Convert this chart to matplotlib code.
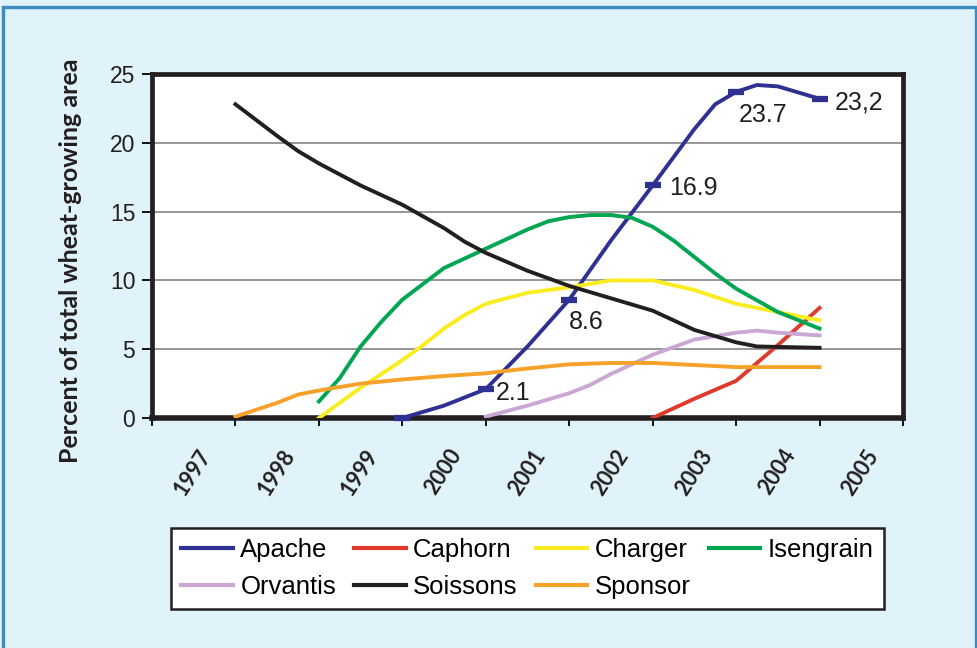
import numpy as np
import matplotlib.pyplot as plt
from matplotlib.patches import Rectangle
from matplotlib.lines import Line2D

# x positions are in "tick units": tick 0 sits at the left axis, year labels sit between ticks
year_labels = ["1997", "1998", "1999", "2000", "2001", "2002", "2003", "2004", "2005"]

apache_x = [3, 3.5, 4, 4.5, 5, 5.5, 6, 6.5, 6.75, 7, 7.25, 7.5, 8]
apache_y = [0, 0.9, 2.1, 5.2, 8.6, 12.9, 16.9, 21.0, 22.8, 23.7, 24.2, 24.1, 23.2]
apache_marks_x = [3, 4, 5, 6, 7, 8]
apache_marks_y = [0, 2.1, 8.6, 16.9, 23.7, 23.2]

caphorn_x = [6, 6.5, 7, 7.5, 8]
caphorn_y = [0, 1.4, 2.7, 5.3, 8.0]

charger_x = [2, 2.5, 3, 3.25, 3.5, 3.75, 4, 4.5, 5, 5.5, 6, 6.5, 7, 7.5, 8]
charger_y = [0, 2.2, 4.2, 5.3, 6.5, 7.5, 8.3, 9.1, 9.5, 10.0, 10.0, 9.3, 8.3, 7.7, 7.1]

isengrain_x = [2, 2.25, 2.5, 2.75, 3, 3.5, 4, 4.5, 4.75, 5, 5.25, 5.5, 5.75, 6, 6.25, 6.5, 6.75, 7, 7.5, 8]
isengrain_y = [1.2, 2.9, 5.2, 7.0, 8.6, 10.9, 12.3, 13.7, 14.3, 14.6, 14.75, 14.75, 14.55, 13.9, 12.9, 11.7, 10.5, 9.4, 7.7, 6.5]

orvantis_x = [4, 4.5, 5, 5.25, 5.5, 6, 6.5, 7, 7.25, 7.5, 8]
orvantis_y = [0.1, 0.9, 1.8, 2.4, 3.2, 4.6, 5.7, 6.2, 6.35, 6.2, 6.0]

soissons_x = [1, 1.5, 1.75, 2, 2.5, 3, 3.5, 3.75, 4, 4.5, 5, 5.5, 6, 6.5, 7, 7.25, 8]
soissons_y = [22.8, 20.5, 19.4, 18.5, 16.9, 15.5, 13.8, 12.8, 12.0, 10.7, 9.6, 8.7, 7.8, 6.4, 5.5, 5.2, 5.1]

sponsor_x = [1, 1.5, 1.75, 2, 2.5, 3, 3.5, 4, 4.5, 5, 5.5, 6, 6.5, 7, 7.5, 8]
sponsor_y = [0.1, 1.1, 1.7, 2.0, 2.5, 2.8, 3.05, 3.25, 3.6, 3.9, 4.0, 4.0, 3.85, 3.7, 3.7, 3.7]

labels_txt = ["2.1", "8.6", "16.9", "23.7", "23,2"]
labels_x = [4.12, 5.0, 6.2, 7.03, 8.18]
labels_y = [1.8, 7.0, 16.7, 22.0, 22.95]

names = ["Apache", "Caphorn", "Charger", "Isengrain", "Orvantis", "Soissons", "Sponsor"]
colors = ["#2E3192", "#E03A2C", "#FAEC21", "#00A651", "#CBA8D3", "#231F20", "#F6A22A"]

bg = "#E0F2FA"
plt.rcParams['font.family'] = ['Liberation Sans', 'DejaVu Sans']

fig = plt.figure(figsize=(9.78, 6.48), dpi=100, facecolor=bg)
fig.patches.append(Rectangle((3/978, -0.05), 973/978, (641/648) + 0.05, transform=fig.transFigure,
                             fill=False, edgecolor="#3A8CC1", linewidth=2.4))

ax = fig.add_axes([152/978, 230/648, 751/978, 344/648])
ax.set_facecolor("white")

lw = 2.8
series = [(apache_x, apache_y), (caphorn_x, caphorn_y), (charger_x, charger_y),
          (isengrain_x, isengrain_y), (orvantis_x, orvantis_y),
          (soissons_x, soissons_y), (sponsor_x, sponsor_y)]
# draw order roughly like the original (apache on top)
order = [6, 4, 5, 2, 3, 1, 0]
for i in order:
    xs, ys = series[i]
    ax.plot(xs, ys, color=colors[i], lw=lw, solid_joinstyle='round', zorder=3 + i * 0.01)

ax.plot(apache_marks_x, apache_marks_y, ls='none', marker='_', markersize=12,
        markeredgewidth=4.5, color=colors[0], zorder=4, clip_on=False)

for t, x, y in zip(labels_txt, labels_x, labels_y):
    ax.text(x, y, t, fontsize=18, color="#231F20", va='center', ha='left', zorder=5)

ax.set_xlim(0, 9)
ax.set_ylim(0, 25)
ax.set_yticks([0, 5, 10, 15, 20, 25])
ax.set_yticklabels(["0", "5", "10", "15", "20", "25"], fontsize=16.5, color="#231F20")
ax.set_xticks(np.arange(10))
ax.set_xticklabels([])
ax.tick_params(axis='y', direction='out', length=7, width=1.3, pad=5)
ax.tick_params(axis='x', direction='out', length=6, width=1.3)

for y in [5, 10, 15, 20]:
    ax.axhline(y, color="#7A7A7A", lw=1.1, zorder=1)

for s in ax.spines.values():
    s.set_linewidth(3.4)
    s.set_color("#231F20")
ax.spines['bottom'].set_linewidth(4)

for k, lab in enumerate(year_labels):
    ax.text(k + 0.55, -0.08, lab, transform=ax.get_xaxis_transform(), rotation=57,
            rotation_mode='anchor', ha='right', va='top', fontsize=15.5,
            family=['Lato', 'DejaVu Sans'], fontweight='bold', color="#231F20")

fig.text(71/978, 1 - 261/648, "Percent of total wheat-growing area", rotation=90,
         ha='center', va='center', fontsize=18, family=['Lato', 'DejaVu Sans'],
         fontweight='bold', color="#231F20")

# legend is filled column by column, so reorder to get the row layout of the original
leg_order = [0, 4, 1, 5, 2, 6, 3]
handles = [Line2D([0], [0], color=colors[i], lw=3) for i in leg_order]
leg = fig.legend(handles, [names[i] for i in leg_order], loc='lower left', ncol=4, mode='expand',
                 bbox_to_anchor=(171/978, 39/648, 713/978, 82/648), borderaxespad=0,
                 fontsize=18.5, handlelength=2.0, handletextpad=0.3, labelspacing=0.5,
                 fancybox=False, framealpha=1, borderpad=0.4)
leg.get_frame().set_edgecolor("#231F20")
leg.get_frame().set_linewidth(1.8)

plt.savefig("out.png", dpi=100, facecolor=bg)
